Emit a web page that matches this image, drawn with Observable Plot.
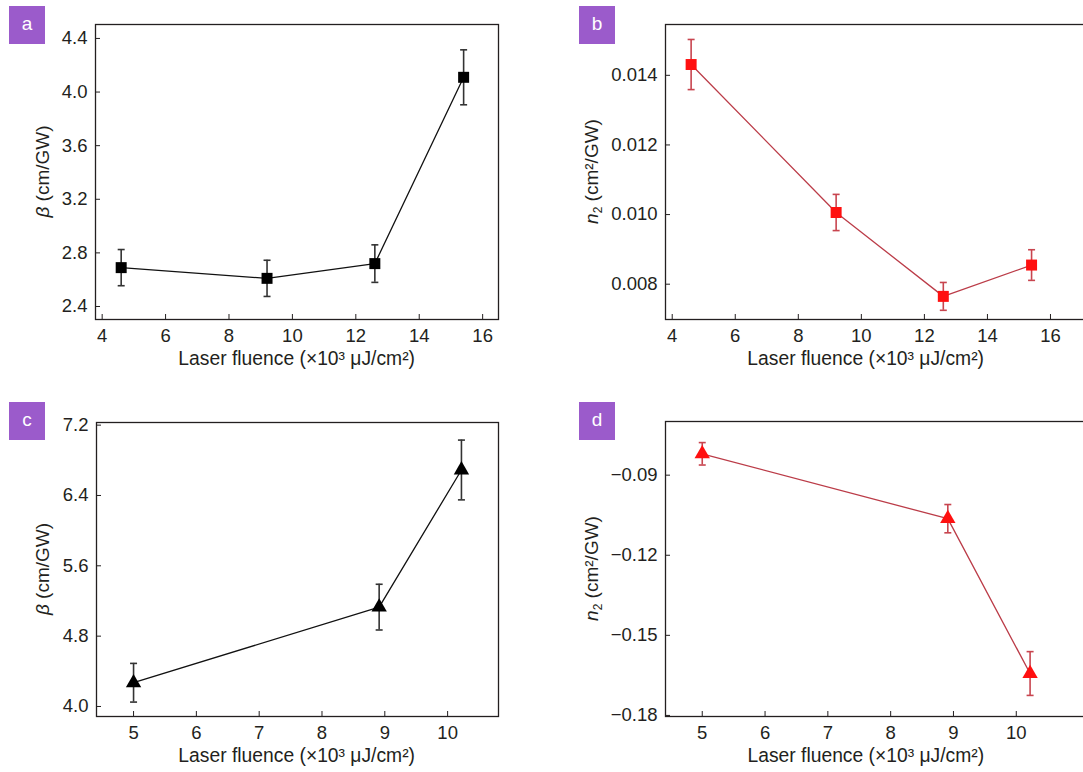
<!DOCTYPE html>
<html><head><meta charset="utf-8">
<script src="https://cdn.jsdelivr.net/npm/d3@7"></script>
<script src="https://cdn.jsdelivr.net/npm/@observablehq/plot@0.6"></script>
<style>
html,body{margin:0;padding:0;background:#fff;}
#wrap{position:relative;width:1083px;height:772px;overflow:hidden;background:#fff;font-family:"Liberation Sans",Arial,sans-serif;}
.panel{position:absolute;display:block;}
.tag{position:absolute;width:36px;height:38px;background:#9b5bcb;color:#fff;font-size:19px;line-height:36px;text-align:center;font-family:"Liberation Sans",Arial,sans-serif;}
</style></head><body><div id="wrap"></div>
<script>
// ---- data ----
const fluenceAB = [4.6, 9.2, 12.6, 15.4];
const betaA = [2.69, 2.61, 2.72, 4.11];
const betaAErr = [0.135, 0.135, 0.14, 0.205];
const n2B = [0.01431, 0.01006, 0.00765, 0.00855];
const n2BErr = [0.00072, 0.00052, 0.0004, 0.00044];
const fluenceCD = [5.0, 8.91, 10.22];
const betaC = [4.27, 5.13, 6.69];
const betaCErr = [0.22, 0.26, 0.34];
const n2D = [-0.082, -0.1063, -0.1643];
const n2DErr = [0.0042, 0.0053, 0.0082];
const ticksXAB = [4, 6, 8, 10, 12, 14, 16];
const ticksXCD = [5, 6, 7, 8, 9, 10];
const ticksYA = [2.4, 2.8, 3.2, 3.6, 4.0, 4.4];
const ticksYB = [0.008, 0.010, 0.012, 0.014];
const ticksYC = [4.0, 4.8, 5.6, 6.4, 7.2];
const ticksYD = [-0.18, -0.15, -0.12, -0.09];
const panelTags = ["a", "b", "c", "d"];
const xLabel = "Laser fluence (×10³ μJ/cm²)";

const FONT = '"Liberation Sans", Arial, sans-serif';
const INK = "#231f20";
const capSymbol = {draw(ctx, size) { const r = Math.sqrt(size / Math.PI); ctx.moveTo(-r, 0); ctx.lineTo(r, 0); }};

const wrap = document.getElementById("wrap");

function panel(cfg) {
  const data = cfg.x.map((x, i) => ({x, y: cfg.y[i], e: cfg.err[i]}));
  const svg = Plot.plot({
    width: cfg.width, height: cfg.height,
    marginLeft: cfg.ml, marginRight: cfg.mr, marginTop: cfg.mt, marginBottom: cfg.mb,
    style: {fontSize: "18.5px", fontFamily: FONT, color: INK, background: "transparent", overflow: "visible"},
    x: {domain: cfg.xDomain, ticks: cfg.xTicks, tickFormat: d => String(d), tickSize: -5, tickPadding: 14, label: null},
    y: {domain: cfg.yDomain, ticks: cfg.yTicks, tickFormat: cfg.yFormat, tickSize: -5, tickPadding: 13, label: null},
    marks: [
      Plot.frame({stroke: INK, strokeWidth: 1.3}),
      Plot.line(data, {x: "x", y: "y", stroke: cfg.lineColor, strokeWidth: 1.3}),
      Plot.ruleX(data, {x: "x", y1: d => d.y - d.e, y2: d => d.y + d.e, stroke: cfg.errColor, strokeWidth: 1.6}),
      Plot.dot(data, {x: "x", y: d => d.y - d.e, symbol: capSymbol, r: 3.5, fill: "none", stroke: cfg.errColor, strokeWidth: 1.6}),
      Plot.dot(data, {x: "x", y: d => d.y + d.e, symbol: capSymbol, r: 3.5, fill: "none", stroke: cfg.errColor, strokeWidth: 1.6}),
      Plot.dot(data, {x: "x", y: "y", symbol: cfg.symbol, r: cfg.r, fill: cfg.markColor, stroke: "none"})
    ]
  });
  const s = d3.select(svg);
  // x label
  s.append("text")
    .attr("x", cfg.xLabelX).attr("y", cfg.height - cfg.mb + 46)
    .attr("text-anchor", "middle").attr("fill", INK)
    .style("font-size", "19.3px").style("font-family", FONT)
    .text(xLabel);
  // y label
  const yl = s.append("text")
    .attr("transform", `translate(${cfg.yLabelX},${cfg.mt + (cfg.height - cfg.mt - cfg.mb) / 2}) rotate(-90)`)
    .attr("text-anchor", "middle").attr("fill", INK)
    .style("font-size", "19px").style("font-family", FONT);
  if (cfg.yKind === "beta") {
    yl.append("tspan").style("font-style", "italic").text("β");
    yl.append("tspan").text(" (cm/GW)");
  } else {
    yl.append("tspan").style("font-style", "italic").text("n");
    yl.append("tspan").attr("dy", 4).style("font-size", "12px").text("2");
    yl.append("tspan").attr("dy", -4).text(" (cm²/GW)");
  }
  svg.classList.add("panel");
  svg.style.left = cfg.left + "px";
  svg.style.top = cfg.top + "px";
  wrap.appendChild(svg);
  const tag = document.createElement("div");
  tag.className = "tag";
  tag.textContent = cfg.tag;
  tag.style.left = cfg.tagX + "px";
  tag.style.top = cfg.tagY + "px";
  wrap.appendChild(tag);
}

panel({tag: panelTags[0], left: 0, top: 0, width: 540, height: 390, ml: 95, mr: 42, mt: 24, mb: 71,
  x: fluenceAB, y: betaA, err: betaAErr, xDomain: [3.79, 16.5], yDomain: [2.303, 4.504],
  xTicks: ticksXAB, yTicks: ticksYA, yFormat: d3.format(".1f"), yKind: "beta",
  symbol: "square", r: 6.2, markColor: "#000", lineColor: "#111", errColor: "#333",
  xLabelX: 296.7, yLabelX: 49, tagX: 9, tagY: 6});

panel({tag: panelTags[1], left: 540, top: 0, width: 548, height: 390, ml: 125, mr: 0, mt: 24, mb: 71,
  x: fluenceAB, y: n2B, err: n2BErr, xDomain: [3.787, 17.206], yDomain: [0.006986, 0.01546],
  xTicks: ticksXAB, yTicks: ticksYB, yFormat: d3.format(".3f"), yKind: "n2",
  symbol: "square", r: 6.2, markColor: "#ff1010", lineColor: "#bb3c48", errColor: "#c8454f",
  xLabelX: 325.7, yLabelX: 58, tagX: 579, tagY: 6});

panel({tag: panelTags[2], left: 0, top: 390, width: 540, height: 382, ml: 96, mr: 42, mt: 32, mb: 56,
  x: fluenceCD, y: betaC, err: betaCErr, xDomain: [4.41, 10.81], yDomain: [3.886, 7.23],
  xTicks: ticksXCD, yTicks: ticksYC, yFormat: d3.format(".1f"), yKind: "beta",
  symbol: "triangle", r: 5.7, markColor: "#000", lineColor: "#111", errColor: "#333",
  xLabelX: 296.7, yLabelX: 49, tagX: 9, tagY: 402});

panel({tag: panelTags[3], left: 540, top: 390, width: 548, height: 382, ml: 125, mr: 0, mt: 31, mb: 56,
  x: fluenceCD, y: n2D, err: n2DErr, xDomain: [4.415, 11.15], yDomain: [-0.1804, -0.0699],
  xTicks: ticksXCD, yTicks: ticksYD, yFormat: d3.format(".2f"), yKind: "n2",
  symbol: "triangle", r: 5.7, markColor: "#ff1010", lineColor: "#bb3c48", errColor: "#c8454f",
  xLabelX: 325.8, yLabelX: 58, tagX: 579, tagY: 402});
</script>
</body></html>
